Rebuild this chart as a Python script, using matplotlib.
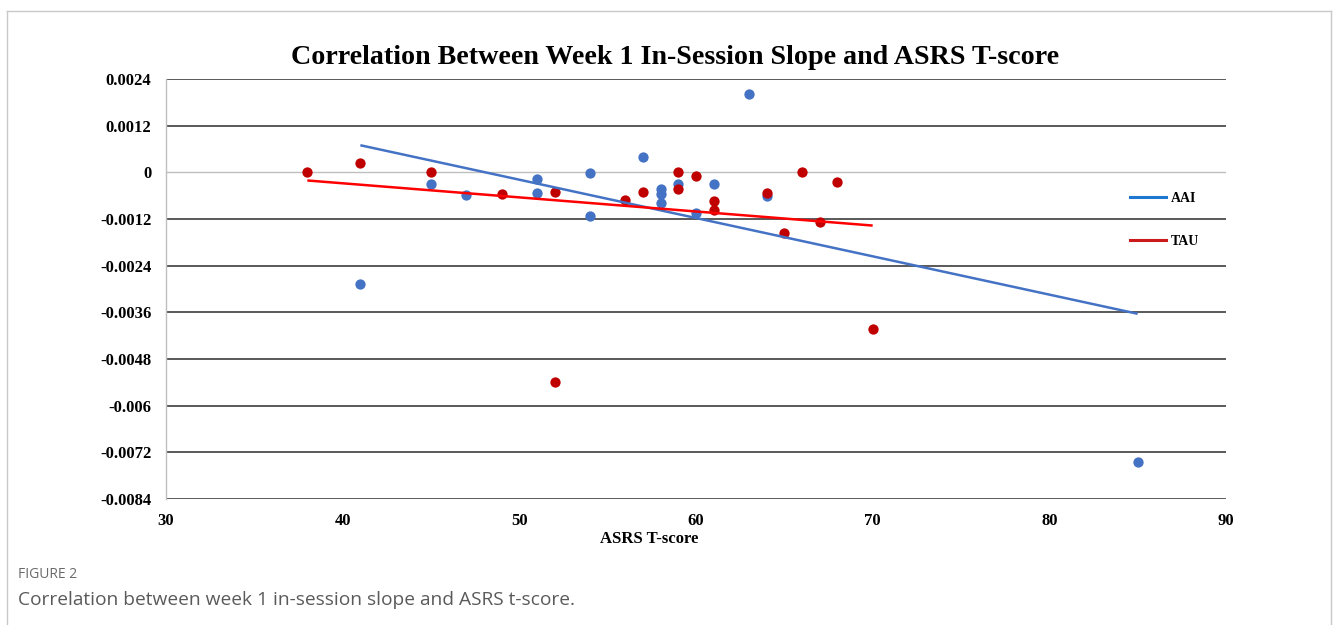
import numpy as np
import matplotlib
matplotlib.use("Agg")
import matplotlib.pyplot as plt
from matplotlib.lines import Line2D

# ---- data ----
aai_x = [41, 45, 47, 51, 51, 54, 54, 57, 58, 58, 58, 59, 60, 61, 63, 64, 85]
aai_y = [-0.00288, -0.00029, -0.00058, -0.00017, -0.00054, -0.00003, -0.00113,
         0.00040, -0.00042, -0.00057, -0.00079, -0.00029, -0.00104, -0.00029,
         0.00202, -0.00060, -0.00745]
tau_x = [38, 41, 45, 49, 52, 52, 56, 57, 59, 59, 60, 61, 61, 64, 65, 66, 67, 68, 70]
tau_y = [0.0, 0.00023, 0.0, -0.00056, -0.00050, -0.00540, -0.00070, -0.00050,
         0.0, -0.00044, -0.00010, -0.00074, -0.00096, -0.00053, -0.00157, 0.0,
         -0.00127, -0.00025, -0.00402]
x_ticks = [30, 40, 50, 60, 70, 80, 90]
y_ticks = [0.0024, 0.0012, 0, -0.0012, -0.0024, -0.0036, -0.0048, -0.006, -0.0072, -0.0084]
y_tick_labels = ["0.0024", "0.0012", "0", "-0.0012", "-0.0024", "-0.0036",
                 "-0.0048", "-0.006", "-0.0072", "-0.0084"]
series_names = ["AAI", "TAU"]

serif = ["Liberation Serif", "DejaVu Serif"]
marker_blue = "#4472C4"
marker_red = "#C00000"
line_blue = "#4472C4"
line_red = "#FF0000"

fig = plt.figure(figsize=(13.33, 6.25), dpi=100)
ax = fig.add_axes([166 / 1333, 1 - 499 / 625, (1226 - 166) / 1333, (499 - 79) / 625])

ax.set_xlim(30, 90)
ax.set_ylim(-0.0084, 0.0024)
ax.set_xticks(x_ticks)
ax.set_yticks(y_ticks)
ax.set_xticklabels([str(v) for v in x_ticks], fontfamily=serif, fontweight="bold", fontsize=12)
ax.set_yticklabels(y_tick_labels, fontfamily=serif, fontweight="bold", fontsize=12)
ax.tick_params(axis="y", length=0, pad=10.5)
ax.tick_params(axis="x", length=0, pad=10)

for s in ["top", "right", "bottom"]:
    ax.spines[s].set_visible(False)
ax.spines["left"].set_color("#BFBFBF")
ax.spines["left"].set_linewidth(1.0)

for v in y_ticks:
    if v == 0:
        ax.axhline(v, color="#BFBFBF", lw=1.0, zorder=1)
    else:
        ax.axhline(v, color="#595959", lw=1.4, zorder=1)

ax.scatter(aai_x, aai_y, s=55, color=marker_blue, zorder=3, linewidths=0)
ax.scatter(tau_x, tau_y, s=55, color=marker_red, zorder=3, linewidths=0)

# linear trend lines fitted from the data
for xs, ys, c in [(aai_x, aai_y, line_blue), (tau_x, tau_y, line_red)]:
    k, b = np.polyfit(xs, ys, 1)
    xr = np.array([min(xs), max(xs)])
    ax.plot(xr, k * xr + b, color=c, lw=1.8, zorder=4, solid_capstyle="butt")

ax.set_xlabel("ASRS T-score", fontfamily=serif, fontweight="bold", fontsize=12)
ax.xaxis.set_label_coords((649 - 166) / 1060, -(539 - 499) / 420, transform=ax.transAxes)
ax.xaxis.label.set_va("center")

fig.text(675 / 1333, 1 - 58 / 625, "Correlation Between Week 1 In-Session Slope and ASRS T-score",
         ha="center", va="center", fontfamily=serif, fontweight="bold", fontsize=20.2)

handles = [Line2D([0], [0], color="#1F78D0", lw=2.2),
           Line2D([0], [0], color="#CC1A1A", lw=2.2)]
fig.legend(handles, series_names, loc="upper left", bbox_to_anchor=(1117 / 1333, 1 - 179 / 625),
           frameon=False, handlelength=2.6, labelspacing=2.2, handletextpad=0.35,
           prop={"family": serif, "weight": "bold", "size": 10})

# outer frame
fig.add_artist(Line2D([7 / 1333, 7 / 1333], [0, 1 - 11 / 625], transform=fig.transFigure, color="#C8C8C8", lw=1))
fig.add_artist(Line2D([7 / 1333, 1331 / 1333], [1 - 11 / 625, 1 - 11 / 625], transform=fig.transFigure, color="#C8C8C8", lw=1))
fig.add_artist(Line2D([1331 / 1333, 1331 / 1333], [0, 1 - 11 / 625], transform=fig.transFigure, color="#C8C8C8", lw=1))

fig.text(18 / 1333, 1 - 575 / 625, "FIGURE 2", ha="left", va="center",
         fontfamily="Open Sans", fontsize=10, color="#6A6A6A")
fig.text(18 / 1333, 1 - 600 / 625, "Correlation between week 1 in-session slope and ASRS t-score.",
         ha="left", va="center", fontfamily="Open Sans", fontsize=13.8, color="#5A5A5A")

fig.savefig("out.png", dpi=100)
